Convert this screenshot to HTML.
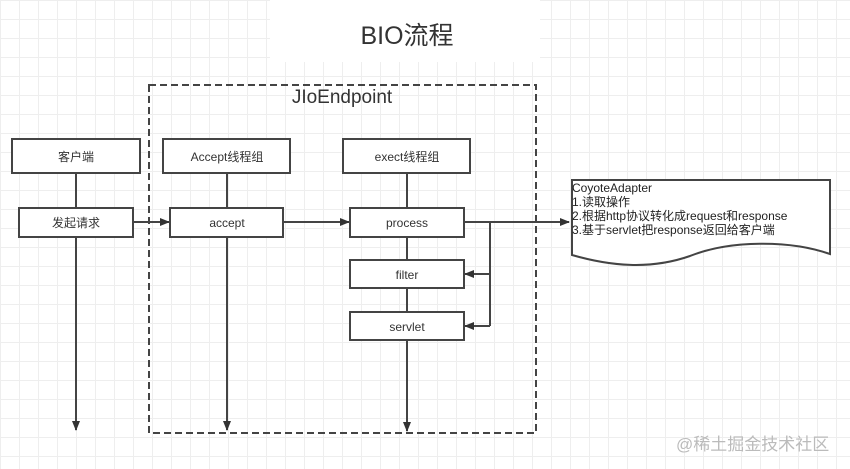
<!DOCTYPE html>
<html><head><meta charset="utf-8"><style>
body{margin:0;width:850px;height:469px;overflow:hidden;background:#fff;
background-image:linear-gradient(#eeeeee 1px,transparent 1px),linear-gradient(90deg,#eeeeee 1px,transparent 1px);background-size:19px 19px;}
</style></head><body>
<svg width="850" height="469" style="position:absolute;left:0;top:0" font-family="Liberation Sans, Noto Sans CJK SC, sans-serif">
<defs><marker id="a" markerWidth="10" markerHeight="8" refX="9" refY="4" orient="auto" markerUnits="userSpaceOnUse"><path d="M0,0 L10,4 L0,8 z" fill="#333"/></marker></defs>
<rect x="270" y="0" width="270" height="62" fill="#fff"/>
<text x="407" y="44" font-size="25" text-anchor="middle" fill="#333">BIO流程</text>
<rect x="149" y="85" width="387" height="348" fill="none" stroke="#444" stroke-width="2" stroke-dasharray="7,4"/>
<text x="342" y="103" font-size="19" text-anchor="middle" fill="#333">JIoEndpoint</text>
<g stroke="#444" stroke-width="2" fill="none">
<line x1="76" y1="173" x2="76" y2="208"/><line x1="76" y1="237" x2="76" y2="430" marker-end="url(#a)"/>
<line x1="227" y1="173" x2="227" y2="208"/><line x1="227" y1="237" x2="227" y2="430" marker-end="url(#a)"/>
<line x1="407" y1="173" x2="407" y2="208"/><line x1="407" y1="237" x2="407" y2="260"/><line x1="407" y1="288" x2="407" y2="312"/><line x1="407" y1="340" x2="407" y2="431" marker-end="url(#a)"/>
<line x1="133" y1="222" x2="169" y2="222" marker-end="url(#a)"/>
<line x1="283" y1="222" x2="349" y2="222" marker-end="url(#a)"/>
<line x1="464" y1="222" x2="569" y2="222" marker-end="url(#a)"/>
<polyline points="490,222 490,326"/>
<line x1="490" y1="274" x2="465" y2="274" marker-end="url(#a)"/>
<line x1="490" y1="326" x2="465" y2="326" marker-end="url(#a)"/>
</g>
<g stroke="#444" stroke-width="2" fill="#fff">
<rect x="12" y="139" width="128" height="34"/><rect x="19" y="208" width="114" height="29"/>
<rect x="163" y="139" width="127" height="34"/><rect x="170" y="208" width="113" height="29"/>
<rect x="343" y="139" width="127" height="34"/><rect x="350" y="208" width="114" height="29"/>
<rect x="350" y="260" width="114" height="28"/><rect x="350" y="312" width="114" height="28"/>
<path d="M572,180 L830,180 L830,254 C790,240 730,240 690,256 C650,270 610,266 572,255 Z"/>
</g>
<g font-size="12" fill="#333" text-anchor="middle">
<text x="76" y="161">客户端</text><text x="76" y="227">发起请求</text>
<text x="227" y="161">Accept线程组</text><text x="227" y="227">accept</text>
<text x="407" y="161">exect线程组</text><text x="407" y="227">process</text>
<text x="407" y="279">filter</text><text x="407" y="331">servlet</text>
</g>
<g font-size="12" fill="#222">
<text x="572" y="192">CoyoteAdapter</text><text x="572" y="206">1.读取操作</text>
<text x="572" y="220">2.根据http协议转化成request和response</text>
<text x="572" y="234">3.基于servlet把response返回给客户端</text>
</g>
<text x="676" y="450" font-size="17" fill="#bbb">@稀土掘金技术社区</text>
</svg>
</body></html>
